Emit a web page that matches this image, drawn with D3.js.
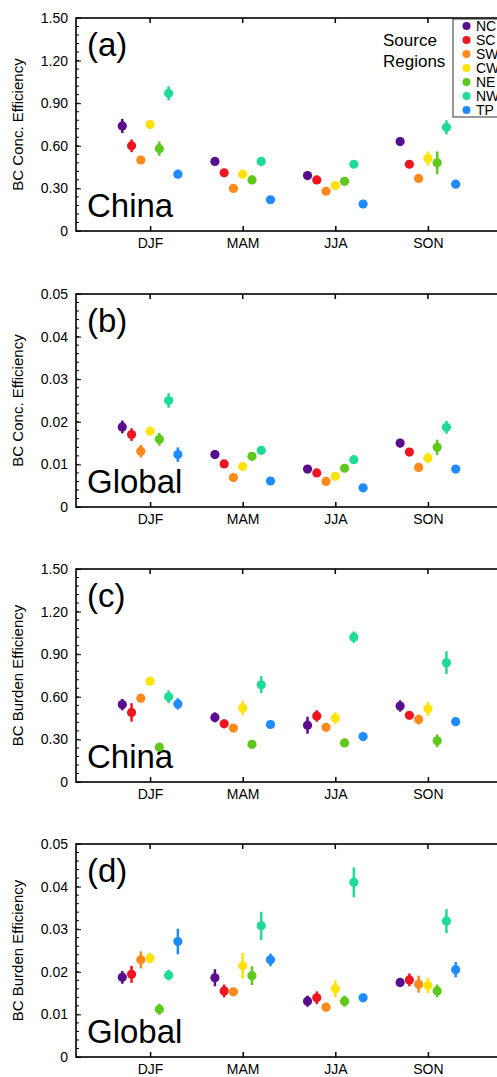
<!DOCTYPE html>
<html>
<head>
<meta charset="utf-8">
<script src="https://cdn.jsdelivr.net/npm/d3@7"></script>
<style>
  body { margin: 0; background: #fff; overflow: hidden; }
  text { font-family: "Liberation Sans", Arial, Helvetica, sans-serif; fill: #000; }
</style>
</head>
<body>
<div id="chart"></div>
<script>
const seasons = ["DJF", "MAM", "JJA", "SON"];
const regions = ["NC", "SC", "SW", "CW", "NE", "NW", "TP"];
const regionColors = ["#5a0c8e", "#ee1520", "#ff8a1c", "#ffe208", "#5ec81c", "#1edb98", "#1e8cff"];

// rows = season, columns = region
const concChina = [
  [0.74, 0.60, 0.50, 0.75, 0.58, 0.97, 0.40],
  [0.49, 0.41, 0.30, 0.40, 0.36, 0.49, 0.22],
  [0.39, 0.36, 0.28, 0.32, 0.35, 0.47, 0.19],
  [0.63, 0.47, 0.37, 0.51, 0.48, 0.73, 0.33]
];
const concChinaErr = [
  [0.05, 0.045, 0.02, 0.02, 0.05, 0.05, 0.02],
  [0.02, 0.02, 0.02, 0.02, 0.03, 0.02, 0.02],
  [0.02, 0.02, 0.02, 0.02, 0.025, 0.02, 0.02],
  [0.03, 0.02, 0.02, 0.05, 0.08, 0.05, 0.02]
];
const concGlobal = [
  [0.0188, 0.0170, 0.0131, 0.0178, 0.0159, 0.0250, 0.0123],
  [0.0123, 0.0101, 0.0069, 0.0095, 0.0119, 0.0133, 0.0061],
  [0.0089, 0.0080, 0.0060, 0.0072, 0.0091, 0.0111, 0.0045],
  [0.0150, 0.0129, 0.0093, 0.0115, 0.0140, 0.0187, 0.0089]
];
const concGlobalErr = [
  [0.0015, 0.0015, 0.0015, 0.0008, 0.0015, 0.0017, 0.0017],
  [0.0010, 0.0008, 0.0008, 0.0008, 0.0008, 0.0008, 0.0008],
  [0.0008, 0.0008, 0.0008, 0.0008, 0.0008, 0.0008, 0.0008],
  [0.0010, 0.0008, 0.0008, 0.0012, 0.0018, 0.0015, 0.0008]
];
const burdenChina = [
  [0.545, 0.49, 0.59, 0.71, 0.245, 0.60, 0.55],
  [0.455, 0.41, 0.38, 0.52, 0.265, 0.685, 0.405],
  [0.40, 0.465, 0.385, 0.45, 0.275, 1.02, 0.32],
  [0.535, 0.47, 0.44, 0.515, 0.29, 0.84, 0.425]
];
const burdenChinaErr = [
  [0.04, 0.065, 0.03, 0.03, 0.02, 0.045, 0.04],
  [0.035, 0.03, 0.02, 0.05, 0.03, 0.06, 0.02],
  [0.06, 0.04, 0.02, 0.04, 0.02, 0.04, 0.02],
  [0.04, 0.03, 0.035, 0.05, 0.045, 0.08, 0.02]
];
const burdenGlobal = [
  [0.0187, 0.0194, 0.0228, 0.0232, 0.0112, 0.0192, 0.0271],
  [0.0186, 0.0155, 0.0153, 0.0214, 0.0191, 0.0308, 0.0228],
  [0.0131, 0.0139, 0.0117, 0.0160, 0.0131, 0.0410, 0.0139],
  [0.0175, 0.0181, 0.0171, 0.0168, 0.0155, 0.0319, 0.0205]
];
const burdenGlobalErr = [
  [0.0015, 0.0020, 0.0020, 0.0012, 0.0013, 0.0012, 0.0030],
  [0.0020, 0.0015, 0.0008, 0.0030, 0.0022, 0.0033, 0.0015],
  [0.0013, 0.0015, 0.0010, 0.0020, 0.0013, 0.0035, 0.0010],
  [0.0010, 0.0015, 0.0020, 0.0018, 0.0015, 0.0028, 0.0018]
];

const panels = [
  { tag: "(a)", area: "China",  title: "BC Conc. Efficiency",   max: 1.5,  step: 0.30, minor: 0.06,  fmt: ".2f", vals: concChina,    errs: concChinaErr },
  { tag: "(b)", area: "Global", title: "BC Conc. Efficiency",   max: 0.05, step: 0.01, minor: 0.002, fmt: ".2f", vals: concGlobal,   errs: concGlobalErr },
  { tag: "(c)", area: "China",  title: "BC Burden Efficiency",  max: 1.5,  step: 0.30, minor: 0.06,  fmt: ".2f", vals: burdenChina,  errs: burdenChinaErr },
  { tag: "(d)", area: "Global", title: "BC Burden Efficiency",  max: 0.05, step: 0.01, minor: 0.002, fmt: ".2f", vals: burdenGlobal, errs: burdenGlobalErr }
];

const width = 497, height = 1077;
const left = 76, right = 502;
const panelTops = [18, 294, 569, 844];
const panelH = 213;

const svg = d3.select("#chart").append("svg")
  .attr("width", width).attr("height", height);

const x = d3.scaleLinear().domain([0.2, 4.8]).range([left, right]);
const offset = d3.scaleLinear().domain([0, regions.length - 1]).range([-0.3, 0.3]);

panels.forEach((p, pi) => {
  const top = panelTops[pi], bottom = top + panelH;
  const y = d3.scaleLinear().domain([0, p.max]).range([bottom, top]);
  const g = svg.append("g");

  const majors = d3.range(0, p.max + p.step / 2, p.step);
  const minors = d3.range(0, p.max + p.minor / 2, p.minor);
  const fmt = d3.format(p.fmt);

  // y axis with inward ticks
  const yAxis = d3.axisLeft(y).tickValues(majors).tickSize(-5).tickPadding(8)
    .tickFormat(d => d === 0 ? "0" : fmt(d));
  const ya = g.append("g").attr("transform", `translate(${left},0)`).call(yAxis);
  ya.select(".domain").remove();
  ya.selectAll("line").attr("stroke", "#000").attr("stroke-width", 1);
  ya.selectAll("text").attr("font-size", 14).style("font-family", "Liberation Sans, Arial, sans-serif");

  g.append("g").selectAll("line").data(minors).join("line")
    .attr("x1", left).attr("x2", left + 3)
    .attr("y1", d => y(d)).attr("y2", d => y(d))
    .attr("stroke", "#000").attr("stroke-width", 1);

  // bottom axis
  const xAxis = d3.axisBottom(x).tickValues([1, 2, 3, 4]).tickSize(-5).tickPadding(7)
    .tickFormat(d => seasons[d - 1]);
  const xa = g.append("g").attr("transform", `translate(0,${bottom})`).call(xAxis);
  xa.select(".domain").remove();
  xa.selectAll("line").attr("stroke", "#000").attr("stroke-width", 1.5);
  xa.selectAll("text").attr("font-size", 14).style("font-family", "Liberation Sans, Arial, sans-serif");

  // top ticks
  g.append("g").selectAll("line").data([1, 2, 3, 4]).join("line")
    .attr("x1", d => x(d)).attr("x2", d => x(d))
    .attr("y1", top).attr("y2", top + 5)
    .attr("stroke", "#000").attr("stroke-width", 1.5);

  // frame
  g.append("rect")
    .attr("x", left).attr("y", top)
    .attr("width", right - left).attr("height", panelH)
    .attr("fill", "none").attr("stroke", "#000").attr("stroke-width", 1.6);

  // y title
  g.append("text")
    .attr("transform", `translate(23,${(top + bottom) / 2}) rotate(-90)`)
    .attr("text-anchor", "middle")
    .attr("font-size", 15)
    .text(p.title);

  g.append("text").attr("x", 87).attr("y", top + 38).attr("font-size", 33).text(p.tag);
  g.append("text").attr("x", 87).attr("y", bottom - 14).attr("font-size", 33).text(p.area);

  // points and error bars
  const pts = [];
  p.vals.forEach((row, si) => row.forEach((v, ri) => {
    pts.push({ s: si, r: ri, v, e: p.errs[si][ri] });
  }));

  const marks = g.append("g");
  marks.selectAll("line").data(pts).join("line")
    .attr("x1", d => x(d.s + 1 + offset(d.r))).attr("x2", d => x(d.s + 1 + offset(d.r)))
    .attr("y1", d => y(d.v - d.e)).attr("y2", d => y(d.v + d.e))
    .attr("stroke", d => regionColors[d.r]).attr("stroke-width", 2.5);
  marks.selectAll("circle").data(pts).join("circle")
    .attr("cx", d => x(d.s + 1 + offset(d.r)))
    .attr("cy", d => y(d.v))
    .attr("r", 4.6)
    .attr("fill", d => regionColors[d.r]);

  // legend in first panel
  if (pi === 0) {
    const lg = svg.append("g");
    lg.append("rect").attr("x", 453).attr("y", 19).attr("width", 80).attr("height", 98)
      .attr("fill", "#fff").attr("stroke", "#333").attr("stroke-width", 1);
    const ly = d3.scalePoint().domain(regions).range([26, 110]);
    lg.selectAll("circle").data(regions).join("circle")
      .attr("cx", 466.5).attr("cy", d => ly(d)).attr("r", 4)
      .attr("fill", (d, i) => regionColors[i]);
    lg.selectAll("text.lab").data(regions).join("text").attr("class", "lab")
      .attr("x", 476).attr("y", d => ly(d) + 5).attr("font-size", 14)
      .text(d => d);
    lg.append("text").attr("x", 383).attr("y", 46).attr("font-size", 17).text("Source");
    lg.append("text").attr("x", 383).attr("y", 67).attr("font-size", 17).text("Regions");
  }
});
</script>
</body>
</html>
